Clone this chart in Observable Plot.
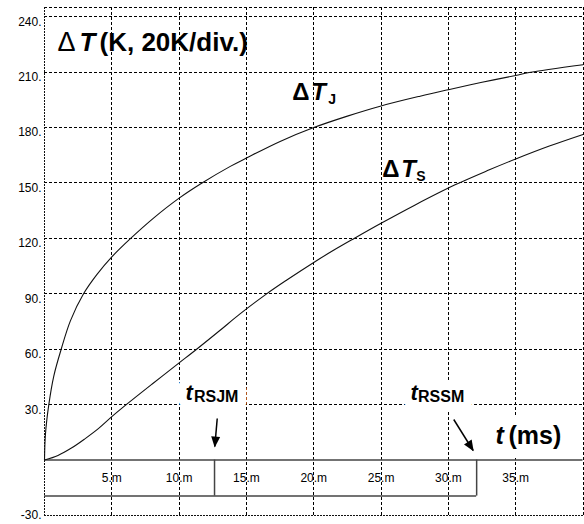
<!DOCTYPE html>
<html><head><meta charset="utf-8">
<script src="https://cdn.jsdelivr.net/npm/d3@7"></script>
<script src="https://cdn.jsdelivr.net/npm/@observablehq/plot@0.6"></script>
<style>html,body{margin:0;padding:0;background:#fff;} svg{display:block}</style>
</head><body><div id="chart"></div>
<script>
// ---- data ----
const timesJ  = [0, 0.07, 0.32, 0.69, 1.24, 1.93, 2.9, 3.9, 5, 6.4, 8.1, 10, 11.7, 13.8, 15, 17.5, 20, 22.5, 25, 27.9, 30, 32.5, 35, 36, 40];
const deltaTJ = [0, 14, 30, 45.5, 60, 75.5, 90, 100.5, 110, 120, 131, 141.8, 150, 159, 163.5, 172.5, 180, 186.2, 191.7, 197, 200.5, 204.5, 208.2, 209.8, 214];
const timesS  = [0, 1, 2, 3, 4, 5, 6.07, 8, 10, 11.3, 13, 14.5, 16.5, 18, 20, 21.5, 23, 25, 27.5, 30.5, 33, 35, 37.5, 40];
const deltaTS = [0, 2.5, 6.5, 11.5, 17, 23.5, 30, 41.2, 52.6, 60, 70, 79, 90, 97.5, 107, 113.7, 120, 128.2, 138, 149, 157, 163, 170, 176.3];
const yTickValues = [30, 60, 90, 120, 150, 180, 210, 240];
const yBottomTick = [-30];
const xTickValues = [5, 10, 15, 20, 25, 30, 35];
const xGridValues = [5, 10, 15, 20, 25, 30, 35, 40];
const yGridValues = [30, 60, 90, 120, 150, 180, 210, 240];
const markerTimes = [12.63, 32.1];   // t_RSJM, t_RSSM (ms)
const bandBottom = -19.5;            // lower edge of the time-axis band (K)
const xLabelLevel = -11.9;           // baseline level of the time tick labels (K)
const xDomain = [0, 40];
const yDomain = [-30, 245];

// ---- annotation anchors (data units) ----
const titleAt = {t: 0.966, v: 221.2};
const labelJAt = {t: 18.4, v: 195.0};
const labelSAt = {t: 25.08, v: 153.1};
const rsjmAt = {t: 10.47, v: 32.5};
const rssmAt = {t: 27.19, v: 32.3};
const unitAt = {t: 33.5, v: 8.7};
const arrows = [
  {x1: 12.83, y1: 22.5, x2: 12.65, y2: 7.35},
  {x1: 30.40, y1: 21.97, x2: 31.84, y2: 5.19}
];

const curveJ = timesJ.map((t, i) => ({t, v: deltaTJ[i]}));
const curveS = timesS.map((t, i) => ({t, v: deltaTS[i]}));

const sans = "'Liberation Sans', Arial, Helvetica, sans-serif";

function piece(at, str, o = {}) {
  return Plot.text([at], {x: "t", y: "v", text: () => str, textAnchor: "start", lineAnchor: "bottom",
    fontFamily: sans, fontWeight: "bold", ...o});
}
function halo(at, str, o = {}) {
  return piece(at, str, {...o, fill: "white", stroke: "white", strokeWidth: 18, strokeLinejoin: "round"});
}

const grid = {stroke: "#000", strokeWidth: 1, strokeDasharray: "3,2", shapeRendering: "crispEdges"};
const dotted = {stroke: "#111", strokeWidth: 1.6, strokeDasharray: "2,1", shapeRendering: "crispEdges"};
const band = {stroke: "#444", strokeWidth: 1.5};

const pieces = [
  [rsjmAt, "t", {fontStyle: "italic", fontSize: 22}],
  [rsjmAt, "RSJM", {fontSize: 16, dx: 8.5, dy: 2}],
  [rssmAt, "t", {fontStyle: "italic", fontSize: 22}],
  [rssmAt, "RSSM", {fontSize: 16, dx: 7.5, dy: 2}],
  [unitAt, "t", {fontStyle: "italic", fontSize: 25}],
  [unitAt, "(ms)", {fontSize: 25, dx: 13}]
];

const plot = Plot.plot({
  width: 584, height: 524,
  marginLeft: 44, marginRight: 1.5, marginTop: 7, marginBottom: 9,
  x: {domain: xDomain, label: null, axis: null},
  y: {domain: yDomain, label: null},
  style: {background: "white", fontFamily: sans, color: "black"},
  marks: [
    Plot.ruleY(yGridValues, grid),
    Plot.ruleY([yDomain[1]], grid),
    Plot.ruleX(xGridValues, grid),
    Plot.ruleY([yDomain[0]], dotted),
    Plot.ruleX([xDomain[0]], dotted),
    Plot.ruleY([0], band),
    Plot.ruleY([bandBottom], {...band, x1: xDomain[0], x2: markerTimes[1]}),
    Plot.ruleX(markerTimes, {...band, y1: bandBottom, y2: 0}),
    Plot.line(curveJ, {x: "t", y: "v", curve: "catmull-rom", stroke: "#111", strokeWidth: 1.1}),
    Plot.line(curveS, {x: "t", y: "v", curve: "catmull-rom", stroke: "#111", strokeWidth: 1.1}),
    ...pieces.map(([a, s, o]) => halo(a, s, o)),
    ...pieces.map(([a, s, o]) => piece(a, s, o)),
    piece(titleAt, "\u0394", {fontWeight: "normal", fontSize: 27}),
    piece(titleAt, "T", {fontStyle: "italic", fontSize: 26, dx: 22}),
    piece(titleAt, "(K, 20K/div.)", {fontSize: 26, dx: 42}),
    piece(labelJAt, "\u0394", {fontSize: 24}),
    piece(labelJAt, "T", {fontStyle: "italic", fontSize: 24, dx: 19}),
    piece(labelJAt, "J", {fontSize: 14, dx: 36, dy: 4.5}),
    piece(labelSAt, "\u0394", {fontSize: 24}),
    piece(labelSAt, "T", {fontStyle: "italic", fontSize: 24, dx: 19}),
    piece(labelSAt, "S", {fontSize: 14, dx: 34, dy: 4}),
    Plot.link(arrows, {x1: "x1", y1: "y1", x2: "x2", y2: "y2", stroke: "#000", strokeWidth: 1.5, markerEnd: "arrow"}),
    Plot.axisY(yTickValues, {tickSize: 0, tickPadding: 3, tickFormat: d => d + ".", fontSize: 12, dy: 5, label: null}),
    Plot.axisY(yBottomTick, {tickSize: 0, tickPadding: 3, tickFormat: d => d + ".", fontSize: 12, dy: 0, label: null}),
    Plot.text(xTickValues, {x: d => d, y: () => xLabelLevel, lineAnchor: "bottom", text: d => d + ".m", fontSize: 12})
  ]
});

// filled arrow heads
d3.select(plot).selectAll("marker")
  .attr("fill", "#000").attr("stroke", "none").style("overflow", "visible")
  .selectAll("path").attr("d", "M-10,-4.5L1,0L-10,4.5Z");

document.getElementById("chart").append(plot);
</script>
</body></html>
